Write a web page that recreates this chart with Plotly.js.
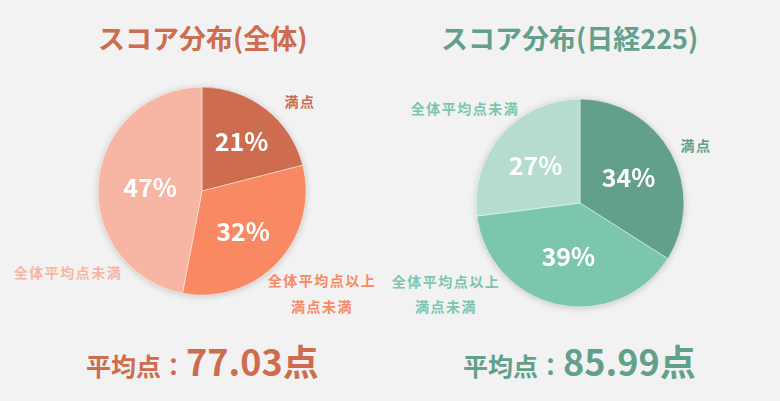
<!DOCTYPE html>
<html>
<head>
<meta charset="utf-8">
<script src="https://cdn.plot.ly/plotly-3.0.1.min.js"></script>
<style>
  html, body { margin: 0; padding: 0; background: #f2f2f2; }
  #chart { width: 780px; height: 401px; }
  .pielayer .trace { filter: drop-shadow(0 1px 3px rgba(0, 0, 0, 0.18)); }
  .annotation[data-index="0"] text, .annotation[data-index="1"] text,
  .annotation[data-index="2"] text, .annotation[data-index="3"] text,
  .annotation[data-index="4"] text, .annotation[data-index="5"] text,
  .annotation[data-index="6"] text, .annotation[data-index="7"] text {
    letter-spacing: 1.5px;
  }
</style>
</head>
<body>
<div id="chart"></div>
<script>
// data
const categories = ['満点', '全体平均点以上<br>満点未満', '全体平均点未満']
const allValues = [21, 32, 47]
const nikkeiValues = [34, 39, 27]
const titles = ['スコア分布(全体)', 'スコア分布(日経225)']
const averages = ['77.03', '85.99']

const ORANGE = ['#cd6c4f', '#f98962', '#f7b6a3']
const GREEN = ['#62a08b', '#7cc6af', '#b6dcd0']
const FONT = '"Noto Sans CJK JP", "Noto Sans", sans-serif'

function pieTrace (values, colors, domain) {
  return {
    type: 'pie',
    labels: categories,
    values: values,
    sort: false,
    direction: 'clockwise',
    rotation: 0,
    domain: domain,
    marker: { colors: colors, line: { color: 'rgba(255,255,255,0.45)', width: 1 } },
    textposition: 'inside',
    insidetextorientation: 'horizontal',
    texttemplate: '%{value}%',
    textfont: { family: FONT, size: 25, color: '#ffffff', weight: 'bold' },
    hoverinfo: 'label+percent',
    showlegend: false
  }
}

const traces = [
  pieTrace(allValues, ORANGE, { x: [0.1256, 0.3923], y: [0.264, 0.783] }),
  pieTrace(nikkeiValues, GREEN, { x: [0.6103, 0.8769], y: [0.2344, 0.7531] })
]

function label (text, x, y, color, size) {
  return {
    text: text,
    x: x / 780,
    y: 1 - y / 401,
    xref: 'paper',
    yref: 'paper',
    showarrow: false,
    xanchor: 'center',
    yanchor: 'middle',
    align: 'center',
    font: { family: FONT, size: size || 14, color: color, weight: 'bold' }
  }
}

function average (value) {
  return '<span style="font-size:25px">平均点：</span>' +
    '<span style="font-size:36px">' + value + '点</span>'
}

const midLines = categories[1].split('<br>')

const annotations = [
  // category labels (indices 0-7 get letter spacing)
  label(categories[0], 300, 101, ORANGE[0]),
  label(midLines[0], 322, 280, ORANGE[1]),
  label(midLines[1], 322, 306, ORANGE[1]),
  label(categories[2], 68, 272, ORANGE[2]),
  label(categories[0], 696, 145, GREEN[0]),
  label(midLines[0], 446, 281, GREEN[1]),
  label(midLines[1], 446, 306, GREEN[1]),
  label(categories[2], 465, 108, GREEN[1]),
  // titles
  label(titles[0], 202, 37, ORANGE[0], 27),
  label(titles[1], 569, 37, GREEN[0], 27),
  // averages
  label(average(averages[0]), 202, 360, ORANGE[0], 25),
  label(average(averages[1]), 579, 360, GREEN[0], 25)
]

const layout = {
  width: 780,
  height: 401,
  margin: { l: 0, r: 0, t: 0, b: 0 },
  paper_bgcolor: '#f2f2f2',
  plot_bgcolor: '#f2f2f2',
  font: { family: FONT },
  annotations: annotations
}

Plotly.newPlot('chart', traces, layout, { displayModeBar: false, staticPlot: true })
</script>
</body>
</html>
